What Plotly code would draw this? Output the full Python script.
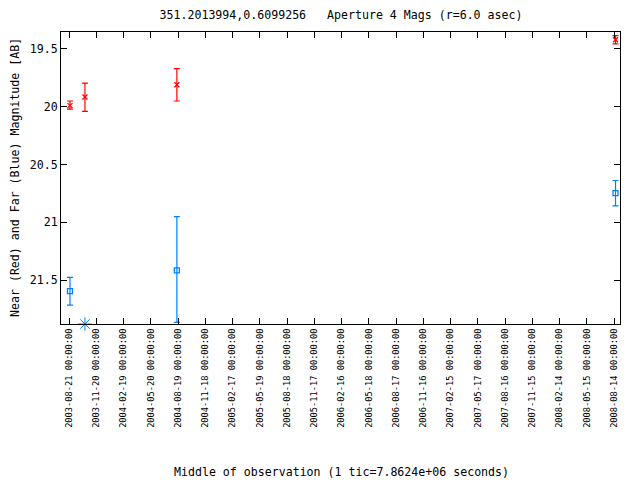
import plotly.graph_objects as go
from datetime import date, timedelta

# Near (red) measurements
near_dates = ["2003-08-24", "2003-10-13", "2004-08-15", "2008-08-19"]
near_mag = [19.99, 19.915, 19.81, 19.42]
near_err_plus = [0.03, 0.125, 0.14, 0.035]
near_err_minus = [0.04, 0.12, 0.14, 0.035]

# Far (blue) measurements
far_dates = ["2003-08-24", "2004-08-15", "2008-08-19"]
far_mag = [21.596, 21.416, 20.748]
far_err_plus = [0.12, 0.45, 0.11]
far_err_minus = [0.12, 0.466, 0.11]

# Far upper limit (star at bottom)
lim_dates = ["2003-10-13"]
lim_mag = [21.88]

# Tick positions (1 tic = 91 days)
tick_start = date(2003, 8, 21)
n_ticks = 21
tick_vals = [(tick_start + timedelta(days=91 * i)).isoformat() for i in range(n_ticks)]
tick_text = [v + " 00:00:00" for v in tick_vals]

y_ticks = [19.5, 20, 20.5, 21, 21.5]
y_tick_text = ["19.5", "20", "20.5", "21", "21.5"]

RED = "#ff0000"
BLUE = "#0080ff"
FONT = "DejaVu Sans Mono"
FS = 11.6

# page has an 8px body margin; figure is sized to fill the rest of the window
W, H = 632, 472
L, R, T, B = 53, 20, 24, 156
PW, PH = W - L - R, H - T - B

fig = go.Figure()
fig.add_trace(go.Scatter(
    x=near_dates, y=near_mag, mode="markers",
    marker=dict(symbol="x-thin-open", size=5, color=RED, line=dict(color=RED, width=1.3)),
    error_y=dict(type="data", array=near_err_plus, arrayminus=near_err_minus,
                 color=RED, thickness=1.2, width=3),
    showlegend=False))
fig.add_trace(go.Scatter(
    x=far_dates, y=far_mag, mode="markers",
    marker=dict(symbol="square-open", size=5, color=BLUE, line=dict(color=BLUE, width=1.3)),
    error_y=dict(type="data", array=far_err_plus, arrayminus=far_err_minus,
                 color=BLUE, thickness=1.2, width=3),
    showlegend=False))
fig.add_trace(go.Scatter(
    x=lim_dates, y=lim_mag, mode="markers", cliponaxis=False,
    marker=dict(symbol="asterisk-open", size=11, color=BLUE, line=dict(color=BLUE, width=1)),
    showlegend=False))

fig.update_layout(
    width=W, height=H,
    margin=dict(l=L, r=R, t=T, b=B, autoexpand=False),
    paper_bgcolor="white", plot_bgcolor="white",
    font=dict(family=FONT, size=FS, color="black"),
    title=dict(text="351.2013994,0.6099256   Aperture 4 Mags (r=6.0 asec)",
               x=333 / W, xanchor="center", y=1 - 7 / H, yanchor="middle",
               font=dict(family=FONT, size=FS, color="black")),
    annotations=[
        dict(text="Middle of observation (1 tic=7.8624e+06 seconds)",
             xref="paper", yref="paper", x=(333 - L) / PW, y=-(464 - (T + PH)) / PH,
             xanchor="center", yanchor="middle", showarrow=False,
             font=dict(family=FONT, size=FS, color="black")),
        dict(text="Near (Red) and Far (Blue) Magnitude [AB]",
             xref="paper", yref="paper", x=(7 - L) / PW, y=0.5,
             xanchor="center", yanchor="middle", textangle=-90, showarrow=False,
             font=dict(family=FONT, size=FS, color="black")),
    ],
)
fig.update_xaxes(
    type="date", range=["2003-07-25", "2008-09-03"], automargin=False,
    tickmode="array", tickvals=tick_vals, ticktext=tick_text, tickangle=-90,
    ticks="inside", ticklen=6, tickcolor="black", tickwidth=1,
    showline=True, linecolor="black", linewidth=1, mirror="ticks",
    showgrid=False, zeroline=False,
    tickfont=dict(family=FONT, size=8.7, color="black"),
)
fig.update_yaxes(
    range=[21.88, 19.353], automargin=False,
    tickmode="array", tickvals=y_ticks, ticktext=y_tick_text,
    ticks="inside", ticklen=6, tickcolor="black", tickwidth=1,
    showline=True, linecolor="black", linewidth=1, mirror="ticks",
    showgrid=False, zeroline=False,
    tickfont=dict(family=FONT, size=FS, color="black"),
)

fig.write_html("out.html")
